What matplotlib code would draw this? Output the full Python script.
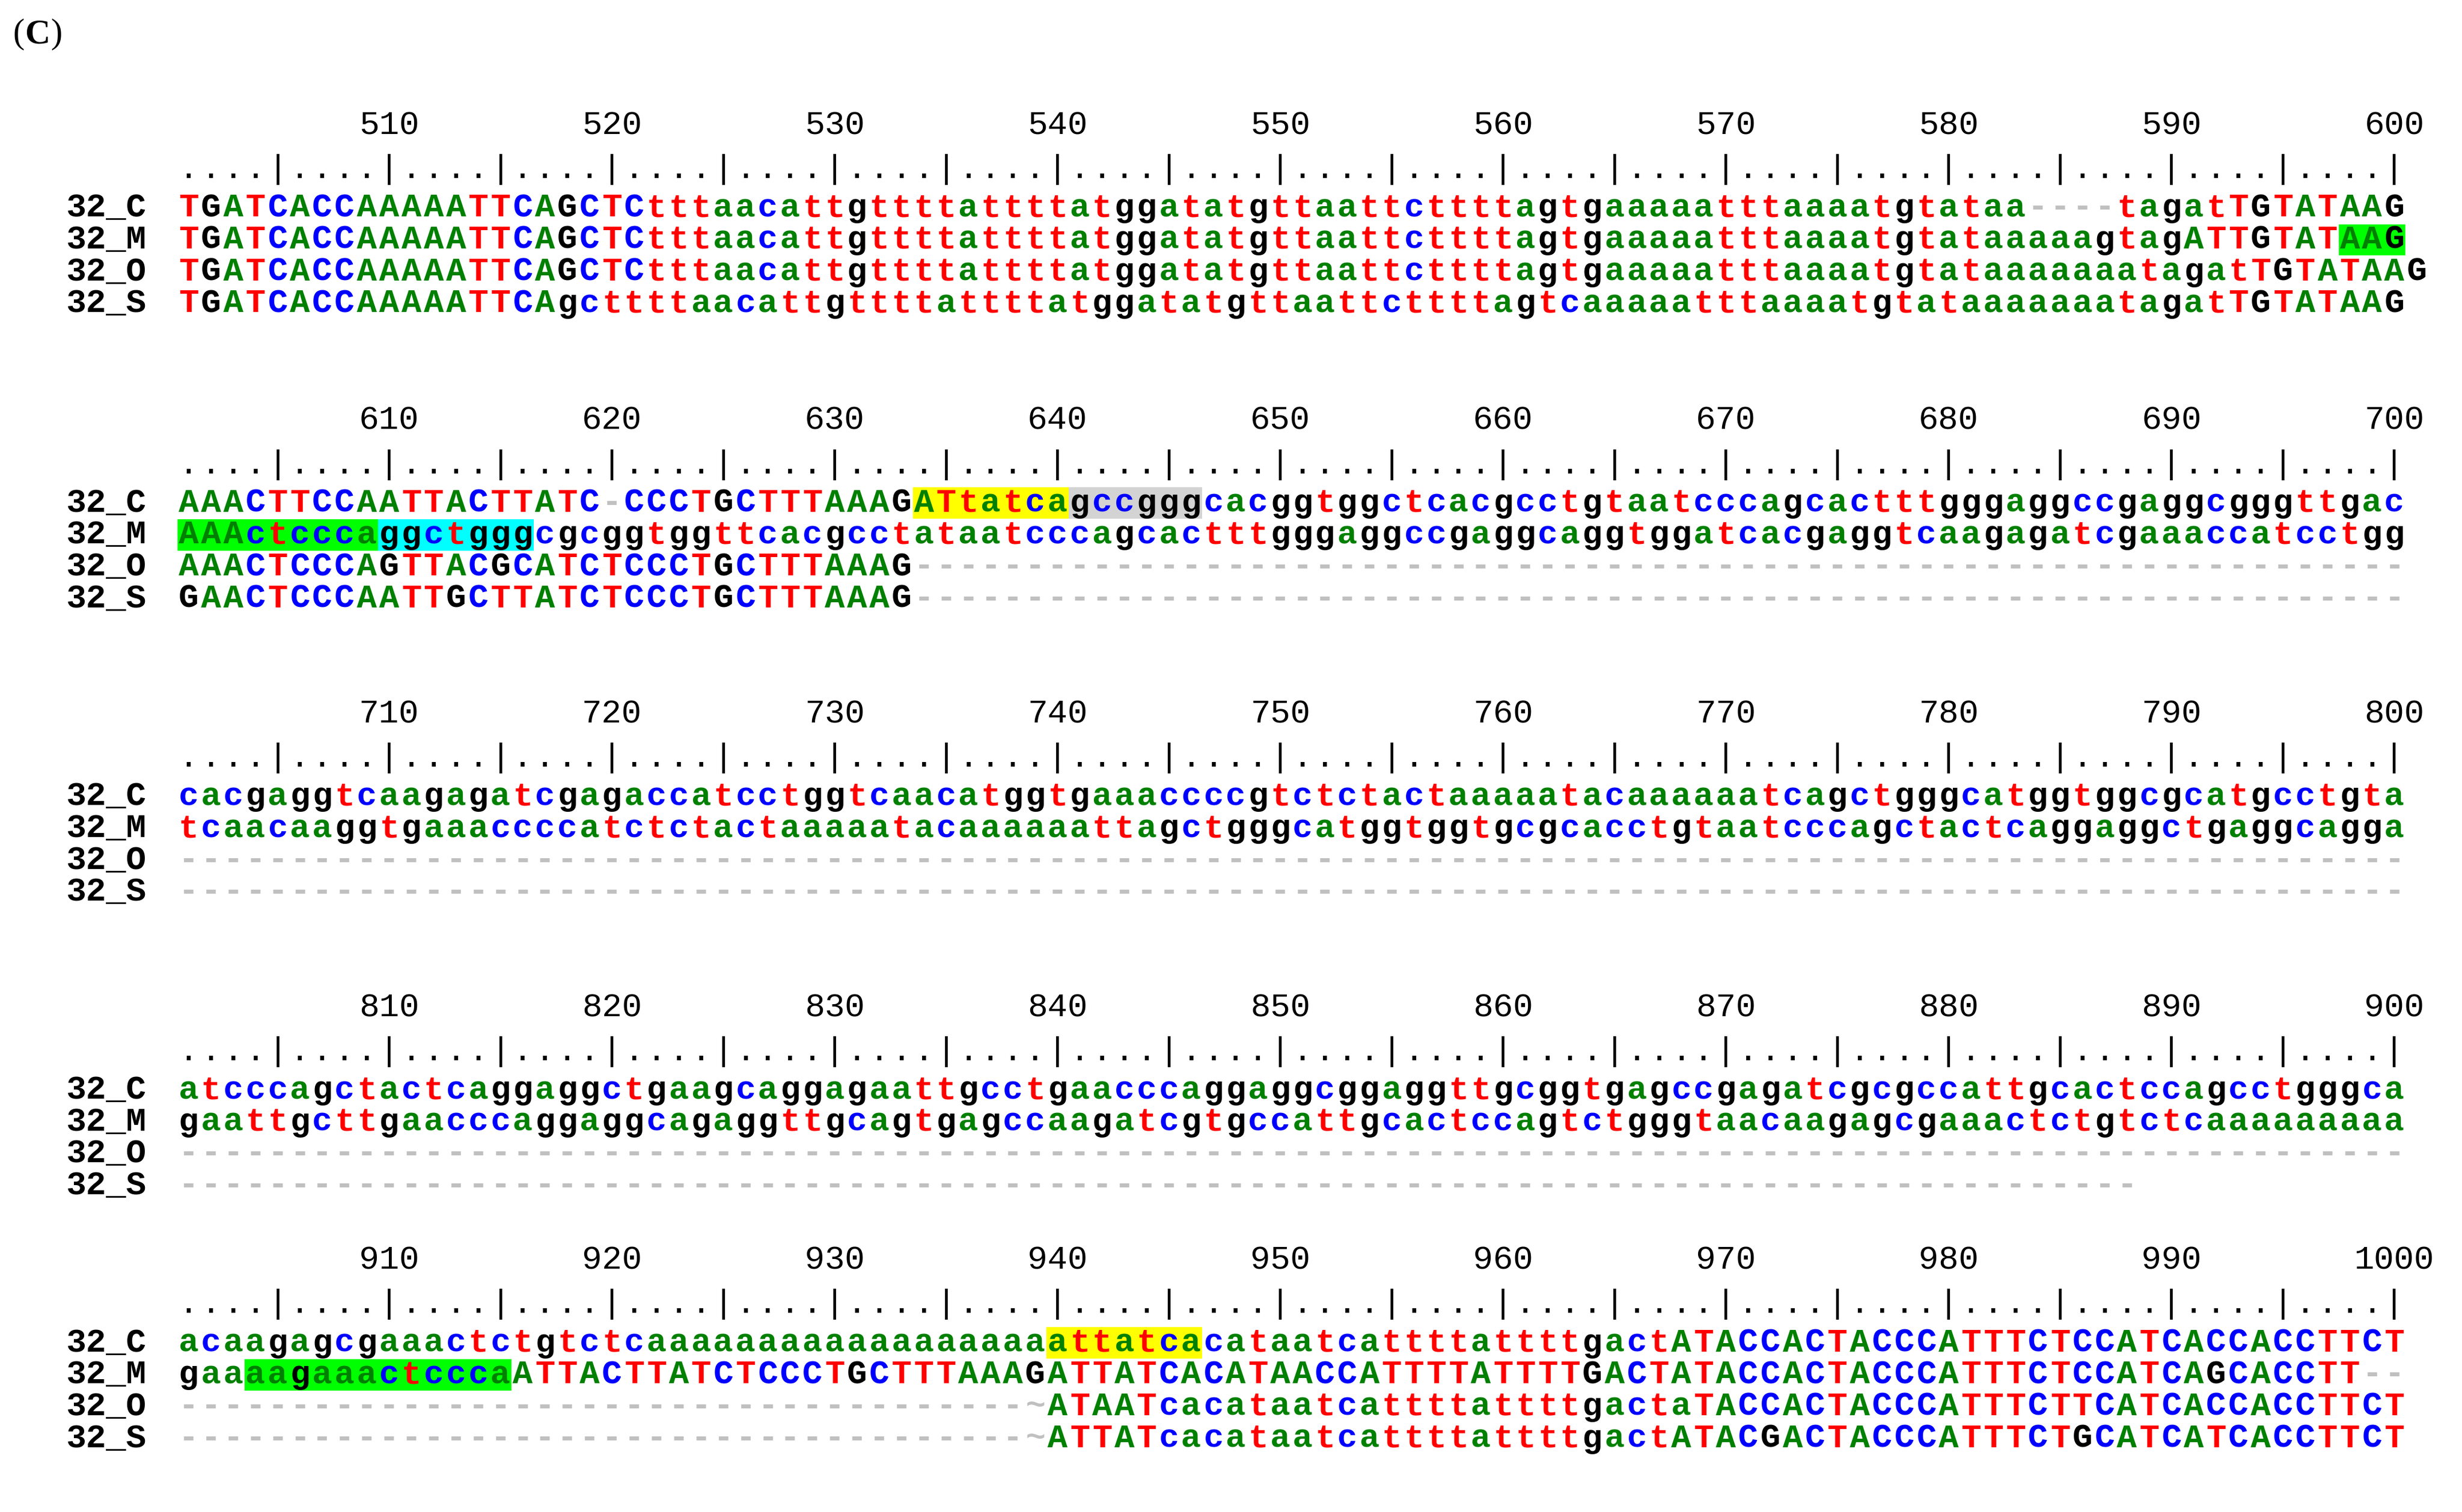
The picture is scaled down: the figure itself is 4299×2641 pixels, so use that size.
import matplotlib
matplotlib.use("Agg")
import matplotlib.pyplot as plt
from matplotlib.patches import Rectangle

# alignment data, 100 columns per block
names = ["32_C", "32_M", "32_O", "32_S"]
block_starts = [501, 601, 701, 801, 901]

block1 = [
    "TGATCACCAAAAATTCAGCTCtttaacattgttttattttatggatatgttaattcttttagtgaaaaatttaaaatgtataa----tagatTGTATAAG",
    "TGATCACCAAAAATTCAGCTCtttaacattgttttattttatggatatgttaattcttttagtgaaaaatttaaaatgtataaaaagtagATTGTATAAG",
    "TGATCACCAAAAATTCAGCTCtttaacattgttttattttatggatatgttaattcttttagtgaaaaatttaaaatgtataaaaaaatagatTGTATAAG",
    "TGATCACCAAAAATTCAgcttttaacattgttttattttatggatatgttaattcttttagtcaaaaatttaaaatgtataaaaaaatagatTGTATAAG",
]
block2 = [
    "AAACTTCCAATTACTTATC-CCCTGCTTTAAAGATtatcagccgggcacggtggctcacgcctgtaatcccagcactttgggaggccgaggcgggttgac",
    "AAActcccaggctgggcgcggtggttcacgcctataatcccagcactttgggaggccgaggcaggtggatcacgaggtcaagagatcgaaaccatcctgg",
    "AAACTCCCAGTTACGCATCTCCCTGCTTTAAAG" + "-" * 67,
    "GAACTCCCAATTGCTTATCTCCCTGCTTTAAAG" + "-" * 67,
]
block3 = [
    "cacgaggtcaagagatcgagaccatcctggtcaacatggtgaaaccccgtctctactaaaaatacaaaaaatcagctgggcatggtggcgcatgcctgta",
    "tcaacaaggtgaaaccccatctctactaaaaatacaaaaaattagctgggcatggtggtgcgcacctgtaatcccagctactcaggaggctgaggcagga",
    "-" * 100,
    "-" * 100,
]
block4 = [
    "atcccagctactcaggaggctgaagcaggagaattgcctgaacccaggaggcggaggttgcggtgagccgagatcgcgccattgcactccagcctgggca",
    "gaattgcttgaacccaggaggcagaggttgcagtgagccaagatcgtgccattgcactccagtctgggtaacaagagcgaaactctgtctcaaaaaaaaa",
    "-" * 100,
    "-" * 88,
]
block5 = [
    "acaagagcgaaactctgtctc" + "a" * 18 + "attatcacataatcattttattttgactATACCACTACCCATTTCTCCATCACCACCTTCT",
    "gaaaagaaactcccaATTACTTATCTCCCTGCTTTAAAGATTATCACATAACCATTTTATTTTGACTATACCACTACCCATTTCTCCATCAGCACCTT--",
    "-" * 38 + "~" + "ATAATcacataatcattttattttgactaTACCACTACCCATTTCTTCATCACCACCTTCT",
    "-" * 38 + "~" + "ATTATcacataatcattttattttgactATACGACTACCCATTTCTGCATCATCACCTTCT",
]
blocks = [block1, block2, block3, block4, block5]

# highlights: (block, row, first col, last col, colour), 1-based columns
highlights = [
    (0, 1, 98, 100, "#00ff00"),
    (1, 0, 34, 40, "#ffff00"),
    (1, 0, 41, 46, "#d3d3d3"),
    (1, 1, 1, 9, "#00ff00"),
    (1, 1, 10, 16, "#00ffff"),
    (4, 0, 40, 46, "#ffff00"),
    (4, 1, 4, 15, "#00ff00"),
]

base_colors = {"a": "#008000", "c": "#0000ff", "g": "#000000", "t": "#ff0000"}

W, H = 4299, 2641
S = W / 1568  # reference was read at 1568 px width
x0 = 113 * S
cw = (1532 - 113) / 100 * S
block_top = [80, 268, 455, 642, 803]
fs = 42
mono = ["Liberation Mono", "DejaVu Sans Mono"]

fig = plt.figure(figsize=(W / 100, H / 100), dpi=100)
ax = fig.add_axes([0, 0, 1, 1])
ax.set_xlim(0, W)
ax.set_ylim(H, 0)
ax.axis("off")

# panel label "(C)" with bold C
serif = "Liberation Serif"
ax.text(8 * S, 22 * S, "(", fontsize=44, family=serif, va="center", ha="left")
ax.text(8 * S + 22, 22 * S, "C", fontsize=44, family=serif, weight="bold", va="center", ha="left")
ax.text(8 * S + 66, 22 * S, ")", fontsize=44, family=serif, va="center", ha="left")

for b, (start, rows) in enumerate(zip(block_starts, blocks)):
    ytop = block_top[b] * S
    yruler = ytop + 28 * S
    for k in range(100):
        pos = start + k
        xc = x0 + (k + 0.5) * cw
        if pos % 10 == 0:
            ax.text(xc, ytop, str(pos), fontsize=fs, family=mono, ha="center", va="center")
        ch = "|" if pos % 5 == 0 else "."
        ax.text(xc, yruler, ch, fontsize=fs, family=mono, ha="center", va="center")
    for r, (name, seq) in enumerate(zip(names, rows)):
        y = ytop + (52.5 + 20.3 * r) * S
        ax.text(42 * S, y, name, fontsize=fs, family=mono, weight="bold", ha="left", va="center")
        for k, ch in enumerate(seq):
            xc = x0 + (k + 0.5) * cw
            col = "#c0c0c0" if ch in "-~" else base_colors[ch.lower()]
            ax.text(xc, y, ch, fontsize=fs, family=mono, weight="bold", color=col,
                    ha="center", va="center", zorder=3)

for b, r, c1, c2, colr in highlights:
    y = (block_top[b] + 52.5 + 20.3 * r) * S
    ax.add_patch(Rectangle((x0 + (c1 - 1) * cw, y - 10 * S), (c2 - c1 + 1) * cw, 20 * S,
                           color=colr, zorder=1, lw=0))

fig.savefig("out.png", dpi=100)
